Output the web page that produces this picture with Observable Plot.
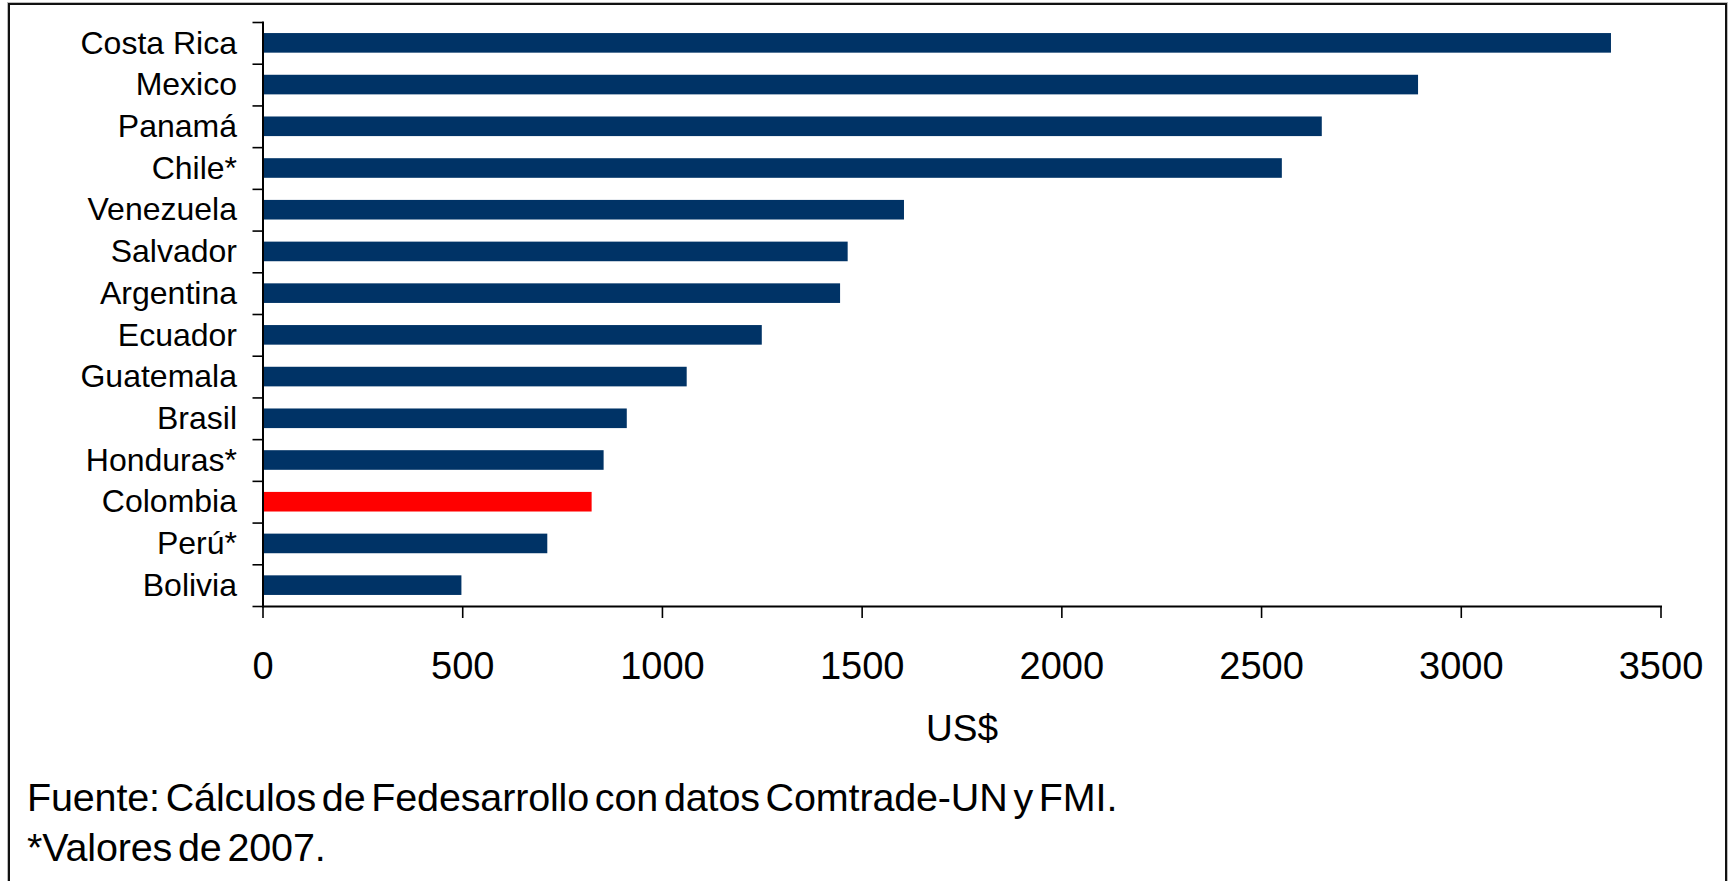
<!DOCTYPE html>
<html>
<head>
<meta charset="utf-8">
<script src="https://cdn.jsdelivr.net/npm/d3@7"></script>
<script src="https://cdn.jsdelivr.net/npm/@observablehq/plot@0.6"></script>
<style>
  html, body { margin: 0; padding: 0; background: #fff; }
  body { width: 1731px; height: 881px; position: relative; overflow: hidden; font-family: "Liberation Sans", Arial, sans-serif; }
  #frame { position: absolute; left: 8px; top: 3px; width: 1715px; height: 900px; border: 2px solid #111; box-shadow: 0 0 0 1px #bbb; }
  #chart { position: absolute; left: 0; top: 0; }
  .note { position: absolute; left: 27px; font-size: 39.5px; line-height: 50px; color: #000; white-space: nowrap; word-spacing: -5px; letter-spacing: -0.15px; }
</style>
</head>
<body>
<div id="frame"></div>
<div id="chart"></div>
<div class="note" id="note1" style="top:772px"></div>
<div class="note" id="note2" style="top:822px"></div>
<script>
// ---- data ----
const countries = ["Costa Rica", "Mexico", "Panamá", "Chile*", "Venezuela", "Salvador", "Argentina", "Ecuador", "Guatemala", "Brasil", "Honduras*", "Colombia", "Perú*", "Bolivia"];
const values = [3376, 2893, 2652, 2552, 1606, 1465, 1446, 1250, 1062, 912, 854, 824, 713, 498];
const highlighted = ["Colombia"];
const xTicks = [0, 500, 1000, 1500, 2000, 2500, 3000, 3500];
const xLabel = "US$";
const notes = ["Fuente: Cálculos de Fedesarrollo con datos Comtrade-UN y FMI.", "*Valores de 2007."];

const data = countries.map((c, i) => ({country: c, value: values[i]}));

// ---- layout ----
const W = 1731, H = 760;
const mTop = 22, mBottom = H - 606, mLeft = 262.5, mRight = W - 1660.5;
const step = (H - mTop - mBottom) / countries.length;
const font = "'Liberation Sans', Arial, sans-serif";

const chart = Plot.plot({
  width: W,
  height: H,
  marginTop: mTop,
  marginBottom: mBottom,
  marginLeft: mLeft,
  marginRight: mRight,
  style: {fontFamily: font, background: "transparent", color: "#000"},
  x: {domain: [xTicks[0], xTicks[xTicks.length - 1]]},
  y: {domain: countries, paddingInner: 0.53, paddingOuter: 0.265, round: false},
  marks: [
    Plot.barX(data, {
      x: "value",
      y: "country",
      fill: d => highlighted.includes(d.country) ? "#FF0000" : "#003366"
    }),
    Plot.frame({anchor: "left", stroke: "#000", strokeWidth: 2}),
    Plot.frame({anchor: "bottom", stroke: "#000", strokeWidth: 2}),
    Plot.axisX({ticks: xTicks, tickSize: 12, tickPadding: 34, tickFormat: d => String(d), fontSize: 38, label: null, strokeWidth: 1.6}),
    Plot.axisY({tickSize: 0, tickPadding: 26, fontSize: 32, label: null}),
    Plot.axisY({tickSize: 10, tickFormat: () => "", dy: -step / 2, label: null, strokeWidth: 1.6}),
    Plot.axisY({ticks: [countries[countries.length - 1]], tickSize: 10, tickFormat: () => "", dy: step / 2, label: null, strokeWidth: 1.6}),
    Plot.text([xLabel], {frameAnchor: "bottom", dy: 134, fontSize: 37, fill: "#000"})
  ]
});
document.getElementById("chart").appendChild(chart);
document.getElementById("note1").textContent = notes[0];
document.getElementById("note2").textContent = notes[1];
</script>
</body>
</html>
